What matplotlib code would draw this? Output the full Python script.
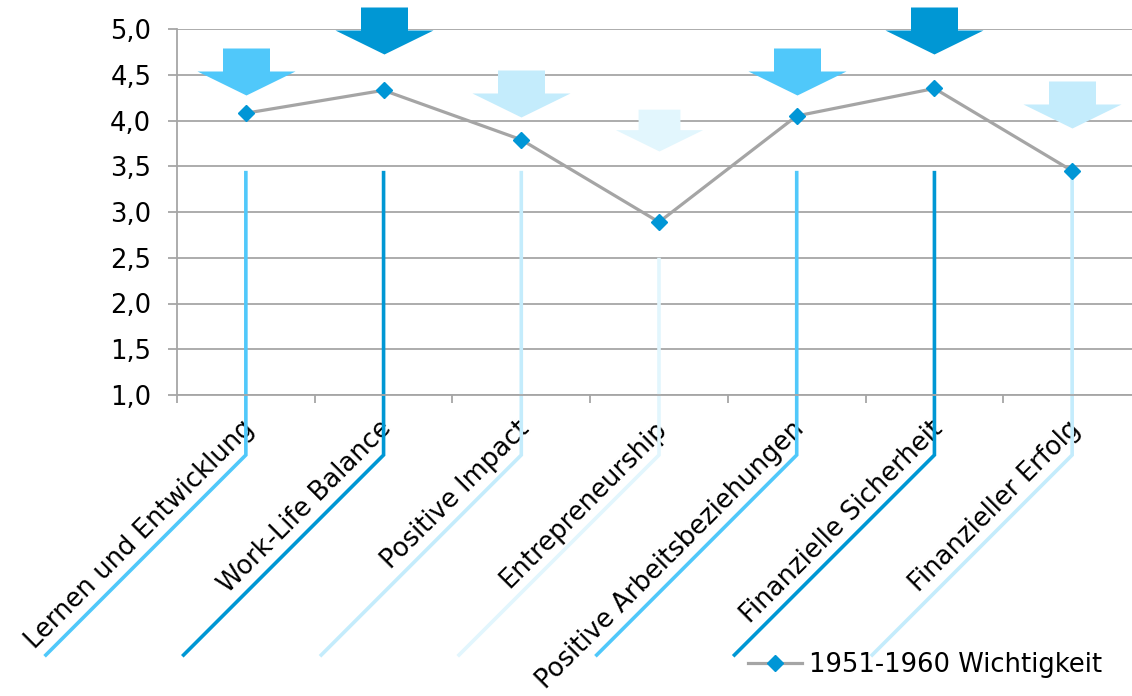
import matplotlib
matplotlib.use("Agg")
import matplotlib.pyplot as plt
import numpy as np
from matplotlib.path import Path
from matplotlib.transforms import ScaledTranslation

# ---------------- data ----------------
categories = ["Lernen und Entwicklung", "Work-Life Balance", "Positive Impact",
              "Entrepreneurship", "Positive Arbeitsbeziehungen",
              "Finanzielle Sicherheit", "Finanzieller Erfolg"]
values = [4.08, 4.33, 3.79, 2.89, 4.05, 4.35, 3.45]
arrow_tips = [4.28, 4.73, 4.04, 3.67, 4.28, 4.73, 3.92]
arrow_scale = [1.0, 1.0, 1.0, 0.89, 1.0, 1.0, 1.0]
stem_tops = [3.43, 3.43, 3.43, 2.48, 3.43, 3.43, 3.43]
rank_colors = ["#50C8FA", "#0097D4", "#C4ECFC", "#E2F6FD",
               "#50C8FA", "#0097D4", "#C4ECFC"]
series_label = "1951-1960 Wichtigkeit"
yticks = [1.0, 1.5, 2.0, 2.5, 3.0, 3.5, 4.0, 4.5, 5.0]
ytick_labels = ["1,0", "1,5", "2,0", "2,5", "3,0", "3,5", "4,0", "4,5", "5,0"]

# ---------------- styling ----------------
W, H, DPI = 1132, 696, 100
GRID = "#A6A6A6"
LINE = "#A5A5A5"
MARK = "#0096D6"
FS = 18.6

fig = plt.figure(figsize=(W / DPI, H / DPI), dpi=DPI)
ax = fig.add_axes([177 / W, (H - 395) / H, (1141 - 177) / W, 366 / H])
n = len(categories)
x = np.arange(n)
ax.set_xlim(-0.5, n - 0.5)
ax.set_ylim(1.0, 5.0)

ax.set_yticks(yticks)
ax.set_yticklabels(ytick_labels)
ax.yaxis.grid(True, color=GRID, lw=1.3, zorder=0)
ax.set_axisbelow(True)
for s in ["top", "right"]:
    ax.spines[s].set_visible(False)
for s in ["left", "bottom"]:
    ax.spines[s].set_color(GRID)
    ax.spines[s].set_linewidth(1.3)
ax.tick_params(axis="y", length=6.5, width=1.3, color=GRID, pad=12.0, labelsize=FS)

ax.set_xticks(x)
ax.set_xticklabels(categories, rotation=45, ha="right", va="center",
                   rotation_mode="anchor", fontsize=FS)
ax.set_xticks(np.arange(-0.5, n, 1.0), minor=True)
ax.tick_params(axis="x", which="major", length=0, pad=26.5)
ax.tick_params(axis="x", which="minor", length=5.8, width=1.3, color=GRID)
for lab in ax.get_xticklabels():
    lab.set_transform(lab.get_transform() + ScaledTranslation(4 / DPI, 7 / DPI, fig.dpi_scale_trans))


def px_offset(xd, yd, dx, dy):
    X, Y = ax.transData.transform((xd, yd))
    return ax.transData.inverted().transform((X + dx, Y + dy))


# decorative stems (vertical then 45 deg diagonal below axis)
for i in range(n):
    kx, ky = px_offset(x[i], 1.0, 0, -60)
    ex, ey = px_offset(x[i], 1.0, -200, -260)
    ax.plot([x[i], kx, ex], [stem_tops[i], ky, ey], color=rank_colors[i],
            lw=2.6, clip_on=False, zorder=2, solid_joinstyle="miter")

# arrow markers (tip at origin)
arrow_verts = [(0, 0), (49, 24), (23.5, 24), (23.5, 47), (-23.5, 47),
               (-23.5, 24), (-49, 24), (0, 0)]
arrow_path = Path(arrow_verts, [Path.MOVETO] + [Path.LINETO] * 6 + [Path.CLOSEPOLY])
for i in range(n):
    ax.plot([x[i]], [arrow_tips[i]], linestyle="none", marker=arrow_path,
            markersize=2 * 49 * 0.72 * arrow_scale[i], color=rank_colors[i],
            markeredgewidth=0, clip_on=False, zorder=3)

line, = ax.plot(x, values, color=LINE, lw=2.3, marker="D", markersize=8.5,
                markerfacecolor=MARK, markeredgecolor=MARK, zorder=4,
                clip_on=False, label=series_label)

ax.legend(handles=[line], loc="center left",
          bbox_to_anchor=(748 / W, 1 - 665 / H), bbox_transform=fig.transFigure,
          frameon=False, borderpad=0, borderaxespad=0, handlelength=2.1,
          handletextpad=0.25, fontsize=FS)

fig.savefig("out.png", dpi=DPI)
